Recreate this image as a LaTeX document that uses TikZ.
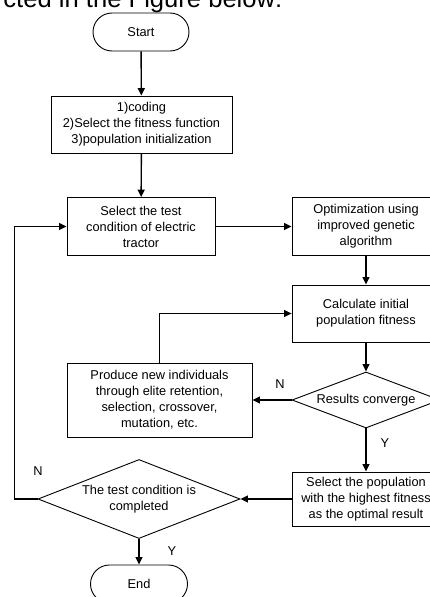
\documentclass[tikz,border=0pt]{standalone}
\usepackage{fontspec}
\setmainfont{Liberation Sans}
\usetikzlibrary{arrows.meta}
\usetikzlibrary{shapes.geometric}
\usetikzlibrary{shapes.misc}

\begin{document}
\begin{tikzpicture} [x=1pt, y=-1pt,
 every node/.style={font=\fontsize{12.8}{16}\selectfont},
 box/.style={draw, line width=.9pt, align=center, inner sep=0pt, minimum width=148pt},
 term/.style={draw, line width=.9pt, rounded rectangle, minimum width=96pt, minimum height=38pt, inner sep=0pt},
 cond/.style={draw, line width=.9pt, diamond, align=center, inner sep=0pt},
 flow/.style={line width=1.4pt, -{Triangle[length=7.5pt,width=7pt]}}]

\useasboundingbox (0,0) rectangle (430,597);
\clip (0,0) rectangle (430,597);

\node[anchor=base west, inner sep=0pt, scale=2] (caption) at (3,8) {cted in the Figure below:};

\node[term] (start) at (141,32) {Start};
\node[box, minimum width=181pt, minimum height=57pt] (init) at (141.5,124.5) {1)coding\\2)Select the fitness function\\3)population initialization};
\node[box, minimum height=58pt] (test) at (141,226.5) {Select the test\\condition of electric\\tractor};
\node[box, minimum height=58pt] (opt) at (366,226.5) {Optimization using\\improved genetic\\algorithm};
\node[box, minimum height=57pt] (calc) at (366,313.5) {Calculate initial\\population fitness};
\node[cond, minimum width=148pt, minimum height=56pt, aspect=2.64] (conv) at (366,400) {Results converge};
\node[box, minimum width=185pt, minimum height=74pt] (prod) at (159.5,400) {Produce new individuals\\through elite retention,\\selection, crossover,\\mutation, etc.};
\node[box, minimum height=54pt] (pick) at (366,499) {Select the population\\with the highest fitness\\as the optimal result};
\node[cond, minimum width=202pt, minimum height=79pt, aspect=2.56] (done) at (139,499) {The test condition is\\completed};
\node[term, minimum width=97pt] (finish) at (139,584) {End};

\node (n1) at (280,384) {N};
\node (y1) at (385,443) {Y};
\node (n2) at (38,471) {N};
\node (y2) at (172,551) {Y};

\draw[flow] (start) -- (init);
\draw[flow] (init) -- (test);
\draw[flow] (test) -- (opt);
\draw[flow] (opt) -- (calc);
\draw[flow] (calc) -- (conv);
\draw[flow] (conv) -- (prod);
\draw[flow] (conv) -- (pick);
\draw[flow] (pick) -- (done);
\draw[flow] (done) -- (finish);
\draw[flow, line width=.8pt] (prod.north) |- (calc.west);
\draw[flow] (done.west) -- ++(-23,0) |- (test.west);
\end{tikzpicture}
\end{document}
